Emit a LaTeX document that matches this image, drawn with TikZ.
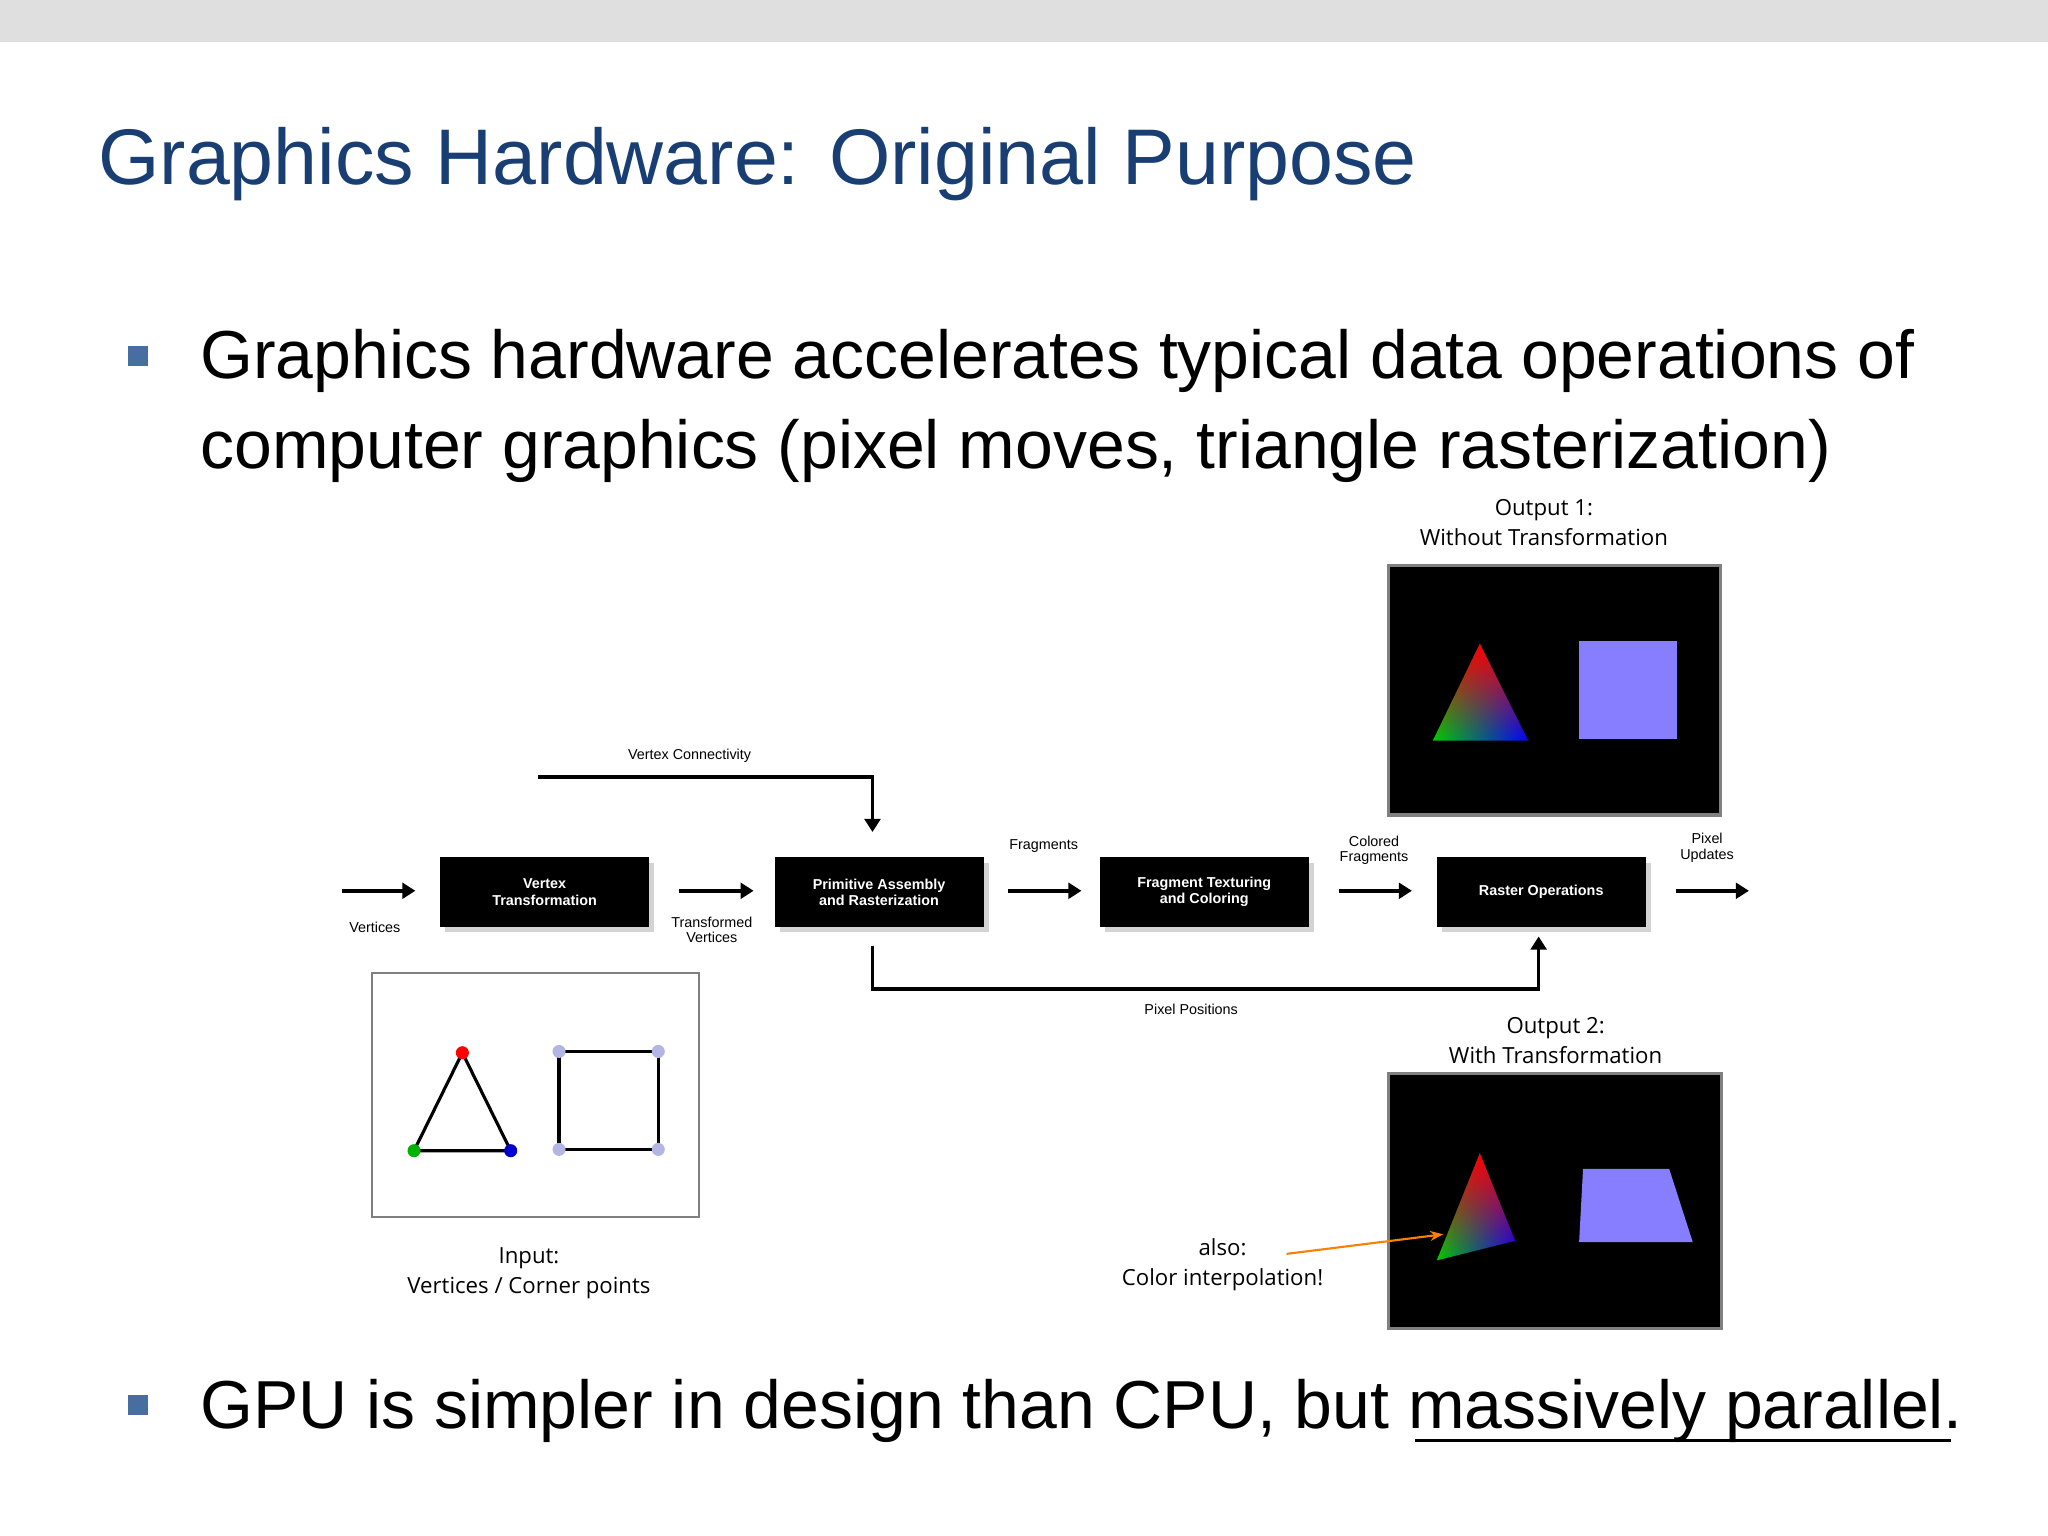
\documentclass[tikz,border=0pt]{standalone}
\usepackage{fontspec}
\setmainfont{Liberation Sans}
\newfontfamily\lab{Open Sans}
\usetikzlibrary{arrows.meta,fadings,shadows}
\definecolor{ttl}{RGB}{24,62,116}
\definecolor{bul}{RGB}{70,110,160}
\definecolor{quadc}{RGB}{135,125,255}
\tikzset{
 stage/.style={fill=black,text=white,font=\fontsize{5.5}{6.2}\selectfont\bfseries,align=center,minimum width=80pt,minimum height=26.5pt,inner sep=0pt,drop shadow={opacity=0.35,shadow xshift=2pt,shadow yshift=-2pt}},
 flow/.style={line width=1.4pt,-{Triangle[length=5pt,width=6pt]}},
 small/.style={font=\fontsize{5.5}{6}\selectfont,align=center,inner sep=0pt},
 outl/.style={font=\lab\fontsize{8.5}{11.5}\selectfont,align=center,inner sep=0pt},
 btxt/.style={anchor=base west,inner sep=0pt,font=\fontsize{26}{34}\selectfont},
}
\begin{document}
\begin{tikzpicture}[x=0.5pt,y=-0.5pt]
\useasboundingbox (0,0) rectangle (1568,1176);
\fill[gray!25] (0,0) rectangle (1568,32);
\node[anchor=base west,inner sep=0pt,text=ttl,font=\fontsize{30.2}{34}\selectfont] (title) at (75,141) {Graphics Hardware: Original Purpose};
\fill[bul] (98,265) rectangle (113,280);
\node[btxt] (b1) at (153,290) {Graphics hardware accelerates typical data operations of};
\node[btxt] (b1b) at (153,359) {computer graphics (pixel moves, triangle rasterization)};
\fill[bul] (98,1068) rectangle (113,1083);
\node[btxt] (b2) at (153,1094) {GPU is simpler in design than CPU, but massively parallel.};
\draw[line width=1.2pt] (1083,1103) -- (1494,1103);

% stages
\node[stage] (vt) at (417,683) {Vertex\\Transformation};
\node[stage] (pa) at (673,683) {Primitive Assembly\\and Rasterization};
\node[stage] (ft) at (922,683) {Fragment Texturing\\and Coloring};
\node[stage] (ro) at (1180,683) {Raster Operations};
\coordinate (a0) at (262,682); \coordinate (a1) at (318,682);
\draw[flow] (a0) -- (a1);
\draw[flow] (520,682) -- (577,682);
\draw[flow] (772,682) -- (828,682);
\draw[flow] (1025,682) -- (1081,682);
\coordinate (a2) at (1283,682); \coordinate (a3) at (1339,682);
\draw[flow] (a2) -- (a3);
\node[small] (lv) at (287,710) {Vertices};
\node[small] (ltv) at (545,712) {Transformed\\Vertices};
\node[small] (lf) at (799,648) {Fragments};
\node[small] (lcf) at (1052,651) {Colored\\Fragments};
\node[small] (lpu) at (1307,649) {Pixel\\Updates};
\coordinate (vc0) at (412,595);
\draw[flow] (vc0) -- (668,595) -- (668,637);
\node[small] (lvc) at (528,579) {Vertex Connectivity};
\draw[flow] (668,724) -- (668,757) -- (1178,757) -- (1178,717);
\node[small] (lpp) at (912,773) {Pixel Positions};

% input
\draw[gray,fill=white,line width=0.8pt] (285,745) rectangle (535,932);
\draw[line width=1.2pt] (354,806) -- (317,881) -- (391,881) -- cycle;
\fill[red] (354,806) circle (5); \fill[green!70!black] (317,881) circle (5); \fill[blue!80!black] (391,881) circle (5);
\draw[line width=1.2pt] (428,805) rectangle (504,880);
\foreach \p in {(428,805),(504,805),(504,880),(428,880)} \fill[cyan!25!blue!30] \p circle (5);
\node[outl] (lin) at (405,975) {Input:\\Vertices / Corner points};

% outputs
\node[outl] (lo1) at (1182,400) {Output 1:\\Without Transformation};
\draw[gray,fill=black,line width=1.2pt] (1063,433) rectangle (1317,624);
\fill[left color=green!80!black,right color=blue] (1133,493) -- (1097,567) -- (1170,567) -- cycle;
\fill[red,path fading=south] (1133,493) -- (1097,567) -- (1170,567) -- cycle;
\fill[quadc] (1209,491) rectangle (1284,566);
\node[outl] (lo2) at (1191,797) {Output 2:\\With Transformation};
\draw[gray,fill=black,line width=1.2pt] (1063,822) rectangle (1318,1017);
\fill[left color=green!80!black,right color=blue] (1133,883) -- (1100,965) -- (1160,950) -- cycle;
\fill[red,path fading=south] (1133,883) -- (1100,965) -- (1160,950) -- cycle;
\fill[quadc] (1212,895) -- (1278,895) -- (1296,951) -- (1209,951) -- cycle;
\node[outl] (lal) at (936,968) {also:\\Color interpolation!};
\coordinate (oa) at (985,960); \coordinate (ob) at (1105,945);
\draw[orange,line width=0.8pt,-{Stealth[length=5pt]}] (oa) -- (ob);
\end{tikzpicture}
\end{document}
